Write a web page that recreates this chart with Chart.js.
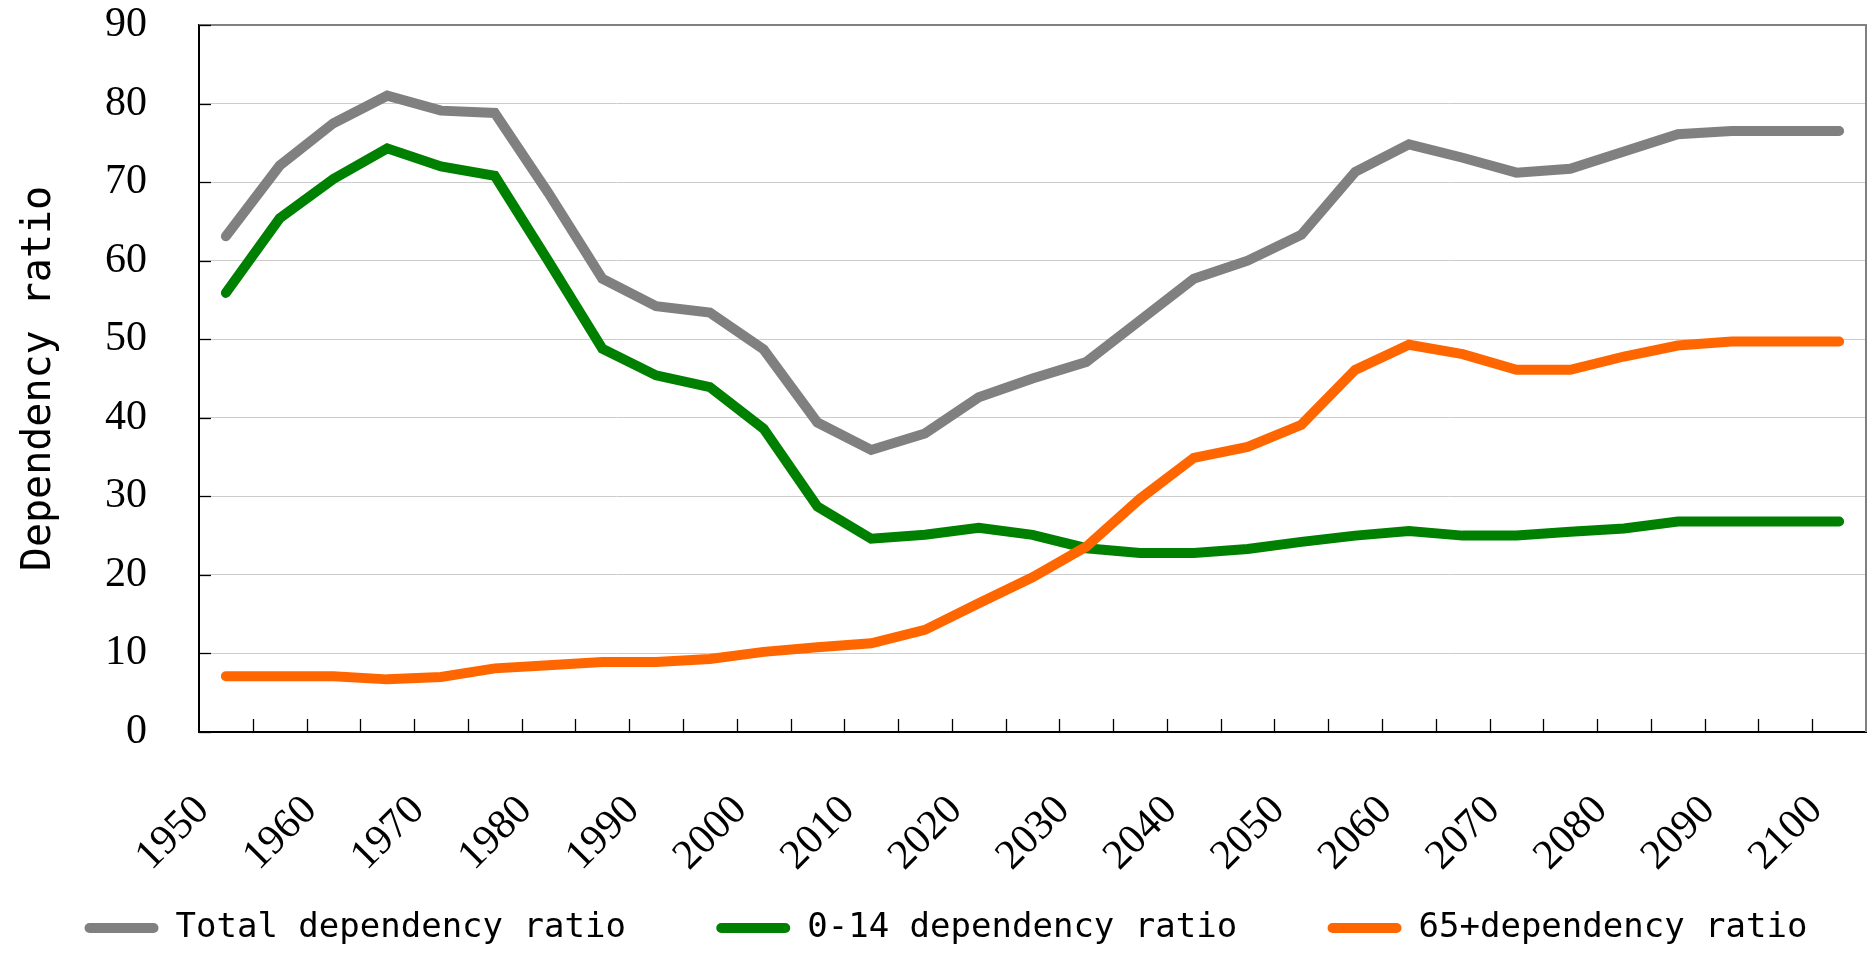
<!DOCTYPE html>
<html>
<head>
<meta charset="utf-8">
<script src="https://cdn.jsdelivr.net/npm/chart.js@4.4.1/dist/chart.umd.min.js"></script>
<style>
html, body { margin: 0; padding: 0; background: #ffffff; overflow: hidden; }
#wrap { width: 1870px; height: 955px; position: relative; }
</style>
</head>
<body>
<div id="wrap"><canvas id="c" width="1870" height="955"></canvas></div>
<script>
// ---- data ----
const years = ['1950','1955','1960','1965','1970','1975','1980','1985','1990','1995',
               '2000','2005','2010','2015','2020','2025','2030','2035','2040','2045',
               '2050','2055','2060','2065','2070','2075','2080','2085','2090','2095','2100'];

const totalRatio = [63.1, 72.1, 77.5, 81.0, 79.1, 78.8, 68.6, 57.7, 54.2, 53.4,
                    48.7, 39.4, 35.9, 38.0, 42.6, 45.0, 47.1, 52.4, 57.7, 60.0,
                    63.3, 71.3, 74.8, 73.1, 71.2, 71.7, 73.9, 76.1, 76.5, 76.5, 76.5];

const youthRatio = [55.9, 65.4, 70.4, 74.3, 72.0, 70.8, 59.9, 48.8, 45.4, 43.9,
                    38.6, 28.7, 24.6, 25.1, 26.0, 25.1, 23.4, 22.8, 22.8, 23.3,
                    24.2, 25.0, 25.6, 25.0, 25.0, 25.5, 25.9, 26.8, 26.8, 26.8, 26.8];

const oldRatio   = [7.1, 7.1, 7.1, 6.7, 7.0, 8.1, 8.5, 8.9, 8.9, 9.3,
                    10.2, 10.8, 11.3, 13.0, 16.4, 19.7, 23.6, 29.7, 34.9, 36.3,
                    39.1, 46.1, 49.3, 48.1, 46.1, 46.1, 47.8, 49.2, 49.7, 49.7, 49.7];

const seriesNames = ['Total dependency ratio', '0-14 dependency ratio', '65+dependency ratio'];
const seriesColors = ['#808080', '#008000', '#ff6600'];
const axisTitle = 'Dependency ratio';
const yMin = 0, yMax = 90, yStep = 10;

// ---- frame / inward tick marks drawn from the library's scales ----
const framePlugin = {
  id: 'frame',
  afterDraw(chart) {
    const { ctx, chartArea: a, scales } = chart;
    const x = scales.x, y = scales.y;
    ctx.save();
    ctx.strokeStyle = '#808080';
    ctx.lineWidth = 2;
    ctx.beginPath();
    ctx.moveTo(a.left, a.top);
    ctx.lineTo(a.right, a.top);
    ctx.lineTo(a.right, a.bottom);
    ctx.stroke();
    ctx.strokeStyle = '#000000';
    ctx.lineWidth = 1.3;
    y.ticks.forEach(t => {
      const py = Math.round(y.getPixelForValue(t.value)) + 0.5;
      ctx.beginPath();
      ctx.moveTo(a.left, py);
      ctx.lineTo(a.left + 12, py);
      ctx.stroke();
    });
    for (let i = 1; i < years.length; i++) {
      const px = Math.round((x.getPixelForValue(i - 1) + x.getPixelForValue(i)) / 2) + 0.5;
      ctx.beginPath();
      ctx.moveTo(px, a.bottom);
      ctx.lineTo(px, a.bottom - 13);
      ctx.stroke();
    }
    ctx.restore();
  }
};

const mkSet = (label, data, color, order) => ({
  label, data,
  borderColor: color,
  backgroundColor: color,
  borderWidth: 10,
  borderCapStyle: 'round',
  borderJoinStyle: 'miter',
  pointRadius: 0,
  pointHoverRadius: 0,
  tension: 0,
  fill: false,
  order
});

new Chart(document.getElementById('c').getContext('2d'), {
  type: 'line',
  data: {
    labels: years,
    datasets: [
      mkSet(seriesNames[0], totalRatio, seriesColors[0], 1),
      mkSet(seriesNames[1], youthRatio, seriesColors[1], 2),
      mkSet(seriesNames[2], oldRatio, seriesColors[2], 0)
    ]
  },
  options: {
    responsive: false,
    animation: false,
    devicePixelRatio: 1,
    layout: { padding: { top: 25, right: 4, left: 26, bottom: 0 }, autoPadding: false },
    plugins: {
      tooltip: { enabled: false },
      legend: {
        position: 'bottom',
        labels: {
          boxWidth: 74,
          boxHeight: 10,
          padding: 29,
          color: '#000000',
          font: { family: 'DejaVu Sans Mono', size: 34 },
          sort: (a, b) => a.datasetIndex - b.datasetIndex,
          generateLabels(chart) {
            const items = Chart.defaults.plugins.legend.labels.generateLabels(chart)
              .sort((a, b) => a.datasetIndex - b.datasetIndex);
            return items.map((l, k) => ({
              ...l,
              text: k < items.length - 1 ? l.text + '   ' : l.text,
              fillStyle: l.strokeStyle, lineWidth: 0, borderRadius: 5
            }));
          }
        }
      }
    },
    scales: {
      x: {
        type: 'category',
        offset: true,
        grid: { display: false },
        border: { display: true, color: '#000000', width: 2 },
        ticks: {
          autoSkip: false,
          minRotation: 45,
          maxRotation: 45,
          padding: 46,
          labelOffset: -23,
          color: '#000000',
          font: { family: 'Liberation Serif', size: 42 },
          callback: (v, i) => (i % 2 === 0 ? years[i] : '')
        },
        afterFit(s) { s.height = 150; s.paddingLeft = 0; s.paddingRight = 0; }
      },
      y: {
        min: yMin,
        max: yMax,
        ticks: {
          stepSize: yStep,
          padding: 52,
          color: '#000000',
          font: { family: 'Liberation Serif', size: 42 }
        },
        grid: { color: '#cccccc', lineWidth: 1, drawTicks: false },
        border: { display: true, color: '#000000', width: 2 },
        title: {
          display: true,
          text: axisTitle,
          color: '#000000',
          font: { family: 'DejaVu Sans Mono', size: 40 },
          padding: { top: -10, bottom: 0 }
        },
        afterFit(s) { s.width = 173; s.paddingTop = 0; s.paddingBottom = 0; }
      }
    }
  },
  plugins: [framePlugin]
});
</script>
</body>
</html>
